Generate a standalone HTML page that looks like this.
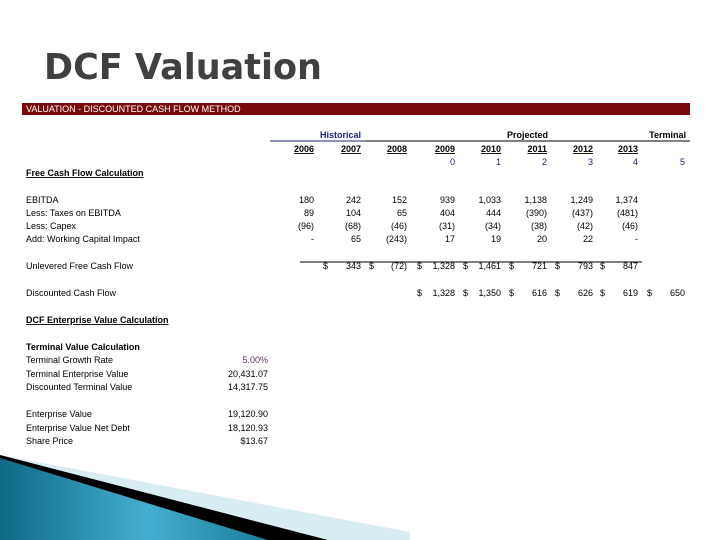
<!DOCTYPE html>
<html><head><meta charset="utf-8"><style>
body{margin:0;width:720px;height:540px;overflow:hidden;background:#fff;font-family:"Liberation Sans",sans-serif}
svg{display:block}
</style></head><body>
<svg id="s" width="720" height="540" xmlns="http://www.w3.org/2000/svg" font-family="Liberation Sans, sans-serif" font-size="9">
<defs><linearGradient id="g" x1="0" y1="0" x2="1" y2="0"><stop offset="0" stop-color="#0d6a86"/><stop offset="0.55" stop-color="#45aed0"/><stop offset="1" stop-color="#1a7d9c"/></linearGradient></defs>
<text x="44" y="79" font-family="DejaVu Sans, sans-serif" font-weight="bold" font-size="36" fill="#404040" textLength="278" lengthAdjust="spacingAndGlyphs">DCF Valuation</text>
<rect x="22" y="103" width="668" height="12" fill="#7a0a0a"/>
<text x="26" y="112" fill="#fff" font-size="9">VALUATION - DISCOUNTED CASH FLOW METHOD</text>
<text x="361" y="138" text-anchor="end" fill="#1a237e" font-weight="bold">Historical</text>
<text x="548" y="138" text-anchor="end" font-weight="bold">Projected</text>
<text x="686" y="138" text-anchor="end" font-weight="bold">Terminal</text>
<line x1="270" y1="141" x2="365" y2="141" stroke="#1a237e" stroke-width="1"/>
<line x1="365" y1="141" x2="690" y2="141" stroke="#000" stroke-width="1"/>
<line x1="300" y1="262" x2="642" y2="262" stroke="#000" stroke-width="1"/>
<g id="tbl"></g>
<polygon points="0,455 410,532 410,540 0,540" fill="#d8ecf3"/>
<polygon points="0,455 328,540 0,540" fill="#000"/>
<polygon points="0,458 268,540 0,540" fill="url(#g)"/>
</svg>
<script>
const years=["2006","2007","2008","2009","2010","2011","2012","2013"];
const periods=["0","1","2","3","4","5"];
const colX=[314,361,407,455,501,547,593,638,685];
const labels=[["Free Cash Flow Calculation",176,"u"],["EBITDA",203],["Less: Taxes on EBITDA",216],["Less: Capex",229],["Add: Working Capital Impact",242],["Unlevered Free Cash Flow",269],["Discounted Cash Flow",296],["DCF Enterprise Value Calculation",323,"u"],["Terminal Value Calculation",350,"b"],["Terminal Growth Rate",363],["Terminal Enterprise Value",377],["Discounted Terminal Value",390],["Enterprise Value",417],["Enterprise Value Net Debt",431],["Share Price",444]];
const ebitda=["180","242","152","939","1,033","1,138","1,249","1,374"];
const taxes=["89","104","65","404","444","(390)","(437)","(481)"];
const capex=["(96)","(68)","(46)","(31)","(34)","(38)","(42)","(46)"];
const wc=["-","65","(243)","17","19","20","22","-"];
const ufcf=["","343","(72)","1,328","1,461","721","793","847"];
const dcf=["","","","1,328","1,350","616","626","619","650"];
const tvVals=["5.00%","20,431.07","14,317.75","","19,120.90","18,120.93","$13.67"];
const tvY=[363,377,390,0,417,431,444];
const g=document.getElementById('tbl');
function t(x,y,s,a,o){const e=document.createElementNS('http://www.w3.org/2000/svg','text');e.setAttribute('x',x);e.setAttribute('y',y);if(a)e.setAttribute('text-anchor',a);for(const k in (o||{}))e.setAttribute(k,o[k]);e.textContent=s;g.appendChild(e);return e;}
labels.forEach(l=>{const e=t(26,l[1],l[0],null,l[2]?{'font-weight':'bold'}:{});if(l[2]=='u')e.setAttribute('text-decoration','underline');

});
years.forEach((y,i)=>{const e=t(colX[i],152,y,'end',{'font-weight':'bold','text-decoration':'underline'});

});
periods.forEach((p,i)=>{const e=t(colX[i+3],165,p,'end',{fill:'#1a237e'});

});
[[ebitda,203],[taxes,216],[capex,229],[wc,242]].forEach(([arr,y])=>arr.forEach((v,i)=>{const e=t(colX[i],y,v,'end');

}));
ufcf.forEach((v,i)=>{if(!v)return;t(colX[i]-38,269,'$');const e=t(colX[i],269,v,'end');

});
dcf.forEach((v,i)=>{if(!v)return;t(colX[i]-38,296,'$');const e=t(colX[i],296,v,'end');

});
tvVals.forEach((v,i)=>{if(!v)return;const e=t(268,tvY[i],v,'end',i==0?{fill:'#6a2a5a'}:{});

});
</script>
</body></html>
